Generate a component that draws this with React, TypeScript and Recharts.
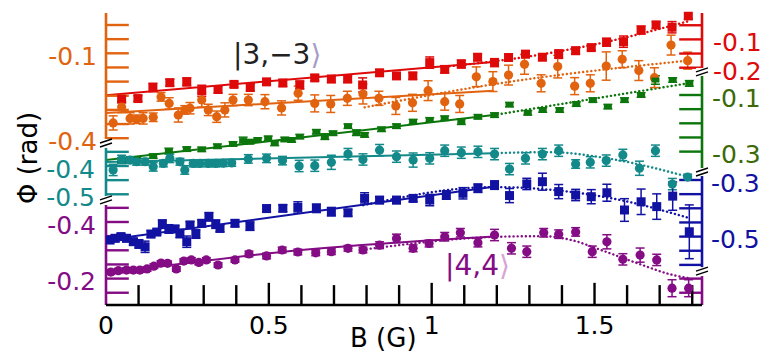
import {
  ComposedChart,
  XAxis,
  YAxis,
  Line,
  Scatter,
  ErrorBar,
  ReferenceLine,
  ReferenceDot,
} from "recharts";

const FONT = "'DejaVu Sans', 'Liberation Sans', sans-serif";
const B_MAX = 1.83;

// rows: [B (G), Φ (rad), error]
const red3m3 = [
  [0.048, -0.311, 0.012], [0.098, -0.309, 0.01], [0.144, -0.27, 0.015], [0.196, -0.253, 0.012],
  [0.248, -0.25, 0.014], [0.294, -0.282, 0.02], [0.344, -0.277, 0.012], [0.393, -0.259, 0.01],
  [0.443, -0.27, 0.012], [0.493, -0.25, 0.01], [0.543, -0.254, 0.012], [0.595, -0.261, 0.014],
  [0.641, -0.236, 0.01], [0.692, -0.24, 0.012], [0.742, -0.24, 0.012], [0.788, -0.261, 0.025],
  [0.84, -0.218, 0.01], [0.892, -0.229, 0.01], [0.942, -0.229, 0.012], [0.994, -0.182, 0.02],
  [1.04, -0.206, 0.012], [1.091, -0.187, 0.014], [1.141, -0.163, 0.012], [1.193, -0.182, 0.014],
  [1.236, -0.164, 0.01], [1.288, -0.152, 0.012], [1.34, -0.163, 0.01], [1.39, -0.152, 0.015],
  [1.442, -0.14, 0.012], [1.49, -0.129, 0.01], [1.537, -0.11, 0.014], [1.589, -0.108, 0.02],
  [1.643, -0.067, 0.014], [1.689, -0.049, 0.012], [1.738, -0.057, 0.02], [1.788, -0.017, 0.012],
];

const orange = [
  [0.022, -0.346, 0.025], [0.048, -0.29, 0.02], [0.074, -0.33, 0.02], [0.094, -0.333, 0.015],
  [0.114, -0.33, 0.02], [0.145, -0.326, 0.015], [0.169, -0.254, 0.015], [0.194, -0.277, 0.02],
  [0.222, -0.318, 0.025], [0.242, -0.3, 0.015], [0.258, -0.294, 0.02], [0.294, -0.265, 0.025],
  [0.314, -0.3, 0.02], [0.34, -0.324, 0.02], [0.365, -0.3, 0.025], [0.39, -0.265, 0.02],
  [0.437, -0.265, 0.02], [0.488, -0.271, 0.025], [0.539, -0.293, 0.025], [0.59, -0.241, 0.025],
  [0.641, -0.277, 0.03], [0.69, -0.279, 0.03], [0.741, -0.259, 0.025], [0.789, -0.244, 0.035],
  [0.838, -0.259, 0.025], [0.89, -0.286, 0.03], [0.941, -0.275, 0.03], [0.989, -0.232, 0.035],
  [1.04, -0.271, 0.03], [1.086, -0.279, 0.03], [1.137, -0.183, 0.035], [1.188, -0.2, 0.035],
  [1.236, -0.177, 0.035], [1.285, -0.139, 0.035], [1.336, -0.206, 0.03], [1.387, -0.147, 0.04],
  [1.439, -0.216, 0.03], [1.487, -0.206, 0.03], [1.536, -0.145, 0.05], [1.585, -0.121, 0.03],
  [1.636, -0.161, 0.035], [1.684, -0.186, 0.035], [1.735, -0.071, 0.035], [1.786, -0.126, 0.03],
];

const green = [
  [0.048, -0.33, 0.008], [0.094, -0.328, 0.008], [0.145, -0.316, 0.008], [0.193, -0.298, 0.01],
  [0.248, -0.291, 0.008], [0.294, -0.292, 0.008], [0.342, -0.281, 0.008], [0.39, -0.273, 0.008],
  [0.421, -0.261, 0.012], [0.442, -0.265, 0.008], [0.466, -0.259, 0.008], [0.498, -0.253, 0.008],
  [0.518, -0.271, 0.008], [0.549, -0.257, 0.008], [0.57, -0.259, 0.008], [0.595, -0.247, 0.008],
  [0.646, -0.23, 0.008], [0.672, -0.247, 0.01], [0.697, -0.235, 0.008], [0.743, -0.21, 0.008],
  [0.769, -0.233, 0.01], [0.794, -0.241, 0.008], [0.846, -0.221, 0.008], [0.892, -0.21, 0.008],
  [0.943, -0.194, 0.008], [0.994, -0.188, 0.008], [1.04, -0.182, 0.008], [1.091, -0.194, 0.01],
  [1.142, -0.177, 0.008], [1.193, -0.171, 0.008], [1.239, -0.134, 0.008], [1.295, -0.163, 0.008],
  [1.341, -0.153, 0.008], [1.393, -0.153, 0.008], [1.444, -0.132, 0.008], [1.495, -0.118, 0.008],
  [1.541, -0.141, 0.008], [1.592, -0.118, 0.008], [1.643, -0.1, 0.008], [1.687, -0.047, 0.015],
  [1.74, -0.047, 0.008], [1.791, -0.059, 0.01],
];

const teal = [
  [0.022, -0.414, 0.02], [0.048, -0.377, 0.015], [0.074, -0.379, 0.012], [0.094, -0.385, 0.012],
  [0.12, -0.385, 0.012], [0.145, -0.403, 0.015], [0.176, -0.391, 0.012], [0.196, -0.373, 0.015],
  [0.227, -0.385, 0.012], [0.242, -0.414, 0.015], [0.268, -0.391, 0.012], [0.288, -0.391, 0.012],
  [0.314, -0.391, 0.012], [0.337, -0.391, 0.012], [0.36, -0.39, 0.012], [0.386, -0.389, 0.012],
  [0.437, -0.375, 0.015], [0.493, -0.373, 0.015], [0.542, -0.381, 0.015], [0.593, -0.4, 0.02],
  [0.641, -0.399, 0.02], [0.692, -0.387, 0.025], [0.743, -0.358, 0.02], [0.789, -0.377, 0.02],
  [0.84, -0.344, 0.02], [0.892, -0.367, 0.02], [0.943, -0.379, 0.025], [0.994, -0.373, 0.02],
  [1.04, -0.346, 0.02], [1.091, -0.353, 0.02], [1.142, -0.35, 0.02], [1.193, -0.358, 0.02],
  [1.239, -0.411, 0.02], [1.288, -0.373, 0.02], [1.34, -0.358, 0.02], [1.39, -0.346, 0.02],
  [1.442, -0.393, 0.015], [1.487, -0.387, 0.02], [1.536, -0.381, 0.02], [1.587, -0.361, 0.02],
  [1.638, -0.408, 0.025], [1.687, -0.346, 0.02], [1.739, -0.464, 0.02], [1.786, -0.439, 0.01],
];

const blue = [
  [0.012, -0.512, 0.012], [0.028, -0.506, 0.012], [0.046, -0.5, 0.01], [0.063, -0.506, 0.012],
  [0.084, -0.518, 0.012], [0.101, -0.526, 0.015], [0.12, -0.536, 0.02], [0.138, -0.491, 0.012],
  [0.156, -0.484, 0.01], [0.173, -0.456, 0.015], [0.193, -0.473, 0.015], [0.212, -0.473, 0.012],
  [0.227, -0.489, 0.015], [0.248, -0.518, 0.02], [0.258, -0.459, 0.012], [0.276, -0.491, 0.015],
  [0.294, -0.453, 0.012], [0.316, -0.43, 0.015], [0.337, -0.456, 0.015], [0.35, -0.471, 0.012],
  [0.396, -0.453, 0.012], [0.442, -0.463, 0.015], [0.493, -0.401, 0.012], [0.543, -0.4, 0.012],
  [0.589, -0.397, 0.02], [0.646, -0.4, 0.015], [0.692, -0.412, 0.015], [0.743, -0.416, 0.012],
  [0.794, -0.365, 0.02], [0.84, -0.371, 0.012], [0.892, -0.371, 0.012], [0.943, -0.365, 0.012],
  [0.994, -0.371, 0.02], [1.045, -0.353, 0.015], [1.096, -0.347, 0.02], [1.142, -0.329, 0.015],
  [1.193, -0.318, 0.015], [1.239, -0.355, 0.025], [1.292, -0.314, 0.02], [1.34, -0.306, 0.03],
  [1.39, -0.341, 0.025], [1.442, -0.353, 0.02], [1.49, -0.359, 0.025], [1.538, -0.345, 0.03],
  [1.592, -0.406, 0.04], [1.643, -0.377, 0.045], [1.691, -0.394, 0.045], [1.74, -0.357, 0.05],
  [1.791, -0.483, 0.095],
];

const purple44 = [
  [0.015, -0.223, 0.008], [0.038, -0.228, 0.008], [0.063, -0.23, 0.008], [0.084, -0.23, 0.008],
  [0.104, -0.23, 0.008], [0.126, -0.234, 0.008], [0.147, -0.244, 0.008], [0.169, -0.255, 0.008],
  [0.189, -0.254, 0.008], [0.216, -0.234, 0.008], [0.239, -0.262, 0.008], [0.262, -0.266, 0.008],
  [0.285, -0.257, 0.008], [0.308, -0.266, 0.008], [0.344, -0.248, 0.008], [0.396, -0.266, 0.008],
  [0.439, -0.287, 0.01], [0.493, -0.28, 0.01], [0.541, -0.301, 0.01], [0.589, -0.294, 0.01],
  [0.644, -0.291, 0.01], [0.692, -0.295, 0.01], [0.743, -0.307, 0.01], [0.789, -0.301, 0.01],
  [0.84, -0.318, 0.012], [0.892, -0.342, 0.015], [0.943, -0.307, 0.012], [0.992, -0.324, 0.012],
  [1.04, -0.348, 0.015], [1.088, -0.362, 0.015], [1.142, -0.327, 0.015], [1.193, -0.354, 0.02],
  [1.245, -0.307, 0.02], [1.292, -0.295, 0.02], [1.344, -0.362, 0.015], [1.39, -0.357, 0.015],
  [1.442, -0.365, 0.015], [1.493, -0.295, 0.02], [1.538, -0.33, 0.025], [1.587, -0.268, 0.02],
  [1.64, -0.283, 0.025], [1.691, -0.266, 0.02], [1.738, -0.166, 0.03], [1.789, -0.166, 0.03],
];

// fits: solid (low field) and dotted (full model)
const redFit = [[0, -0.297], [1.19, -0.18]];
const redModel = [[1.03, -0.198], [1.3, -0.16], [1.52, -0.113], [1.79, -0.035]];
const orangeFit = [[0, -0.311], [1.19, -0.232]];
const orangeModel = [[0.794, -0.291], [1.209, -0.206], [1.785, -0.126]];
const greenFit = [[0, -0.33], [1.19, -0.171]];
const greenModel = [[1.19, -0.171], [1.79, -0.058]];
const tealFit = [[0, -0.386], [1.19, -0.355]];
const tealModel = [[1.19, -0.355], [1.36, -0.351], [1.55, -0.375], [1.79, -0.439]];
const blueFit = [[0, -0.512], [1.19, -0.324]];
const blueModel = [[0.79, -0.389], [1.19, -0.325], [1.34, -0.332], [1.58, -0.371], [1.79, -0.434]];
const purpleFit = [[0, -0.218], [0.6, -0.301], [1.19, -0.349]];
const purpleModel = [
  [0.8, -0.304], [1.21, -0.348], [1.34, -0.35], [1.43, -0.336],
  [1.52, -0.301], [1.62, -0.259], [1.74, -0.213], [1.79, -0.201],
];

const xMajor = [0, 0.5, 1, 1.5];
const xMinor = [0.1, 0.2, 0.3, 0.4, 0.6, 0.7, 0.8, 0.9, 1.1, 1.2, 1.3, 1.4, 1.6, 1.7, 1.8];

const axes = [
  { id: "or", side: "left", domain: [-0.9894, 0.0424], reversed: false, color: "#e2630f", label: "#e2630f",
    span: [0.0424, -0.41], ticks: [0, -0.05, -0.1, -0.15, -0.2, -0.25, -0.3, -0.35, -0.4], labels: [-0.1, -0.4] },
  { id: "te", side: "left", domain: [-0.8912, 0.1406], reversed: false, color: "#13898a", label: "#13898a",
    span: [-0.336, -0.51], ticks: [-0.35, -0.4, -0.45, -0.5], labels: [-0.4, -0.5] },
  { id: "pu", side: "left", domain: [-1.1385, -0.1067], reversed: true, color: "#840c84", label: "#840c84",
    span: [-0.46, -0.1067], ticks: [-0.45, -0.4, -0.35, -0.3, -0.25, -0.2, -0.15], labels: [-0.4, -0.2] },
  { id: "re", side: "right", domain: [-1.0385, -0.0067], reversed: false, color: "#de0a0a", label: "#de0a0a",
    span: [-0.0067, -0.208], ticks: [-0.05, -0.1, -0.15, -0.2], labels: [-0.1, -0.2] },
  { id: "gr", side: "right", domain: [-0.842, 0.1898], reversed: false, color: "#0c760c", label: "#3c6a08",
    span: [-0.029, -0.358], ticks: [-0.1, -0.15, -0.2, -0.25, -0.3], labels: [-0.1, -0.3] },
  { id: "bl", side: "right", domain: [-0.7417, 0.2901], reversed: false, color: "#1212a2", label: "#1212a2",
    span: [-0.286, -0.611], ticks: [-0.3, -0.35, -0.4, -0.45, -0.5, -0.55, -0.6], labels: [-0.3, -0.5] },
];

const series = [
  { axis: "re", color: "#de0a0a", rows: red3m3, fit: redFit, model: redModel, mark: "sq" },
  { axis: "or", color: "#e2630f", rows: orange, fit: orangeFit, model: orangeModel, mark: "ci" },
  { axis: "gr", color: "#0c760c", rows: green, fit: greenFit, model: greenModel, mark: "flat" },
  { axis: "te", color: "#13898a", rows: teal, fit: tealFit, model: tealModel, mark: "ci" },
  { axis: "bl", color: "#1212a2", rows: blue, fit: blueFit, model: blueModel, mark: "sq" },
  { axis: "pu", color: "#840c84", rows: purple44, fit: purpleFit, model: purpleModel, mark: "ci" },
];

// axis breaks (which axis, x, y)
const breaks = [
  { axis: "or", b: 0, v: -0.417 },
  { axis: "te", b: 0, v: -0.52 },
  { axis: "re", b: B_MAX, v: -0.215 },
  { axis: "gr", b: B_MAX, v: -0.372 },
  { axis: "bl", b: B_MAX, v: -0.622 },
];

const TICK = 0.07;

const pts = (rows: number[][]) => rows.map(([b, v, e]) => ({ b, v, e }));
const line = (rows: number[][]) => rows.map(([b, v]) => ({ b, v }));

const markShape = (kind: string, color: string) => (p: any) => {
  if (kind === "ci") return <circle cx={p.cx} cy={p.cy} r={4.6} fill={color} />;
  if (kind === "flat") return <rect x={p.cx - 4} y={p.cy - 2.5} width={8} height={5} fill={color} />;
  return <rect x={p.cx - 4.5} y={p.cy - 4.5} width={9} height={9} fill={color} />;
};

const BreakMark = (p: any) => (
  <g transform={`translate(${p.cx},${p.cy})`}>
    <rect x={-6} y={-4} width={12} height={8} fill="#fff" />
    <line x1={-6} y1={0} x2={6} y2={-4} stroke="#000" strokeWidth={1.4} />
    <line x1={-6} y1={4} x2={6} y2={0} stroke="#000" strokeWidth={1.4} />
  </g>
);

export default function App() {
  const purpleAxis = axes[2];
  return (
    <div style={{ position: "relative", width: 766, height: 352, background: "#fff" }}>
      <style>{"body{margin:0}"}</style>
      {/* three 1px y-axes per side: margins keep the plot at x 106..702 */}
      <ComposedChart width={766} height={352} margin={{ top: 13, right: 61, bottom: 0, left: 103 }}>
        <XAxis
          type="number"
          dataKey="b"
          domain={[0, B_MAX]}
          allowDataOverflow
          ticks={xMajor}
          interval={0}
          tickFormatter={(v) => String(v)}
          axisLine={{ stroke: "#000", strokeWidth: 2.5 }}
          tickLine={false}
          tickSize={0}
          tickMargin={11}
          height={47}
          tick={{ fill: "#000", fontSize: 25, fontFamily: FONT }}
        />
        {axes.map((a) => (
          <YAxis
            key={a.id}
            yAxisId={a.id}
            orientation={a.side as "left" | "right"}
            type="number"
            domain={a.domain}
            reversed={a.reversed}
            allowDataOverflow
            width={1}
            ticks={a.labels}
            interval={0}
            axisLine={false}
            tickLine={false}
            tickSize={0}
            tickMargin={9}
            tick={{ fill: a.label, fontSize: 25, fontFamily: FONT, dy: 3 }}
          />
        ))}

        {series.map((s) => (
          <Line
            key={s.axis + "fit"}
            data={line(s.fit)}
            dataKey="v"
            yAxisId={s.axis}
            type="monotone"
            stroke={s.color}
            strokeWidth={2}
            dot={false}
            isAnimationActive={false}
          />
        ))}
        {series.map((s) => (
          <Line
            key={s.axis + "model"}
            data={line(s.model)}
            dataKey="v"
            yAxisId={s.axis}
            type="monotone"
            stroke={s.color}
            strokeWidth={2.4}
            strokeDasharray="0.1 4"
            strokeLinecap="round"
            dot={false}
            isAnimationActive={false}
          />
        ))}
        {series.map((s) => (
          <Scatter
            key={s.axis + "pts"}
            data={pts(s.rows)}
            dataKey="v"
            yAxisId={s.axis}
            fill={s.color}
            shape={markShape(s.mark, s.color)}
            isAnimationActive={false}
          >
            <ErrorBar dataKey="e" direction="y" width={4.5} stroke={s.color} strokeWidth={1.5} isAnimationActive={false} />
          </Scatter>
        ))}

        {/* stacked axis segments and inward ticks */}
        {axes.map((a) => {
          const x0 = a.side === "left" ? 0 : B_MAX;
          const x1 = a.side === "left" ? TICK : B_MAX - TICK;
          return [
            <ReferenceLine
              key={a.id + "ax"}
              yAxisId={a.id}
              segment={[{ x: x0, y: a.span[0] }, { x: x0, y: a.span[1] }]}
              stroke={a.color}
              strokeWidth={2.6}
              ifOverflow="visible"
            />,
            ...a.ticks.map((t) => (
              <ReferenceLine
                key={a.id + "t" + t}
                yAxisId={a.id}
                segment={[{ x: x0, y: t }, { x: x1, y: t }]}
                stroke={a.color}
                strokeWidth={2.4}
                ifOverflow="visible"
              />
            )),
          ];
        })}
        {/* purple axis continues on the right below the blue one */}
        <ReferenceLine
          yAxisId="pu"
          segment={[{ x: B_MAX, y: -0.209 }, { x: B_MAX, y: -0.1067 }]}
          stroke={purpleAxis.color}
          strokeWidth={2.6}
          ifOverflow="visible"
        />
        {[-0.2, -0.15].map((t) => (
          <ReferenceLine
            key={"pur" + t}
            yAxisId="pu"
            segment={[{ x: B_MAX, y: t }, { x: B_MAX - TICK, y: t }]}
            stroke={purpleAxis.color}
            strokeWidth={2.4}
            ifOverflow="visible"
          />
        ))}
        {/* x ticks pointing up from the baseline */}
        {[...xMinor, ...xMajor.slice(1)].map((b) => (
          <ReferenceLine
            key={"x" + b}
            yAxisId="pu"
            segment={[{ x: b, y: -0.1067 }, { x: b, y: xMajor.includes(b) ? -0.185 : -0.177 }]}
            stroke="#000"
            strokeWidth={2.4}
            ifOverflow="visible"
          />
        ))}
        {breaks.map((k, i) => (
          <ReferenceDot
            key={"brk" + i}
            yAxisId={k.axis}
            x={k.b}
            y={k.v}
            r={0}
            shape={BreakMark}
            ifOverflow="visible"
          />
        ))}
      </ComposedChart>

      <svg
        width={766}
        height={352}
        style={{ position: "absolute", left: 0, top: 0, pointerEvents: "none" }}
        fontFamily={FONT}
      >
        <text x={233} y={64} fontSize={28} fill="#222">
          |3,−3<tspan fill="#a79cc8">⟩</tspan>
        </text>
        <text x={445} y={275} fontSize={28} fill="#840c84">
          |4,4<tspan fill="#d9a3d6">⟩</tspan>
        </text>
        <text x={350} y={347} fontSize={26} fill="#000">
          B (G)
        </text>
        <text
          x={0}
          y={0}
          fontSize={26}
          fill="#000"
          textAnchor="middle"
          transform="translate(37,158) rotate(-90)"
        >
          Φ (rad)
        </text>
      </svg>
    </div>
  );
}
